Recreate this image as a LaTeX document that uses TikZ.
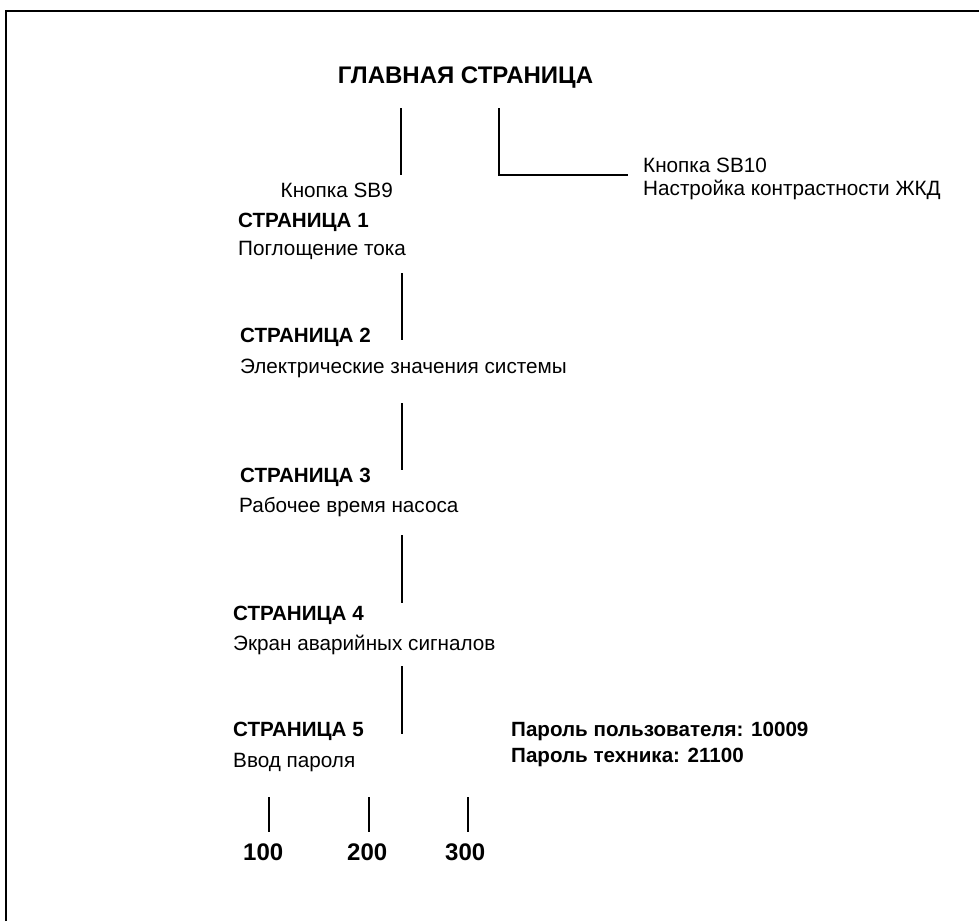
\documentclass[tikz,border=0pt]{standalone}
\usepackage{fontspec}
\setmainfont{Liberation Sans}
\begin{document}
\begin{tikzpicture}[x=1pt, y=-1pt,
    title/.style={font=\fontsize{24}{28}\selectfont\bfseries, anchor=base, inner sep=0pt},
    heading/.style={font=\fontsize{20.6}{24}\selectfont\bfseries, anchor=base west, inner sep=0pt},
    caption/.style={font=\fontsize{20.7}{24}\selectfont, anchor=base west, inner sep=0pt},
    number/.style={font=\fontsize{24}{28}\selectfont\bfseries, anchor=base west, inner sep=0pt},
    link/.style={line width=2pt}
]
\useasboundingbox (0,0) rectangle (979,921);

% Cornice
\draw[line width=2.5pt] (6,921) -- (6,11) -- (979,11);

% Pagina principale
\node[title] (main) at (465.5,83) {ГЛАВНАЯ СТРАНИЦА};
\node[caption, anchor=base east] (sb9) at (393,197) {Кнопка SB9};
\node[caption] (sb10) at (643,172) {Кнопка SB10};
\node[caption] (lcd) at (643,195) {Настройка контрастности ЖКД};

% Pagine
\node[heading] (p1) at (238,227) {СТРАНИЦА 1};
\node[caption] (p1txt) at (238,255) {Поглощение тока};
\node[heading] (p2) at (240,342) {СТРАНИЦА 2};
\node[caption] (p2txt) at (240,373) {Электрические значения системы};
\node[heading] (p3) at (240,482) {СТРАНИЦА 3};
\node[caption] (p3txt) at (239,512) {Рабочее время насоса};
\node[heading] (p4) at (233,620) {СТРАНИЦА 4};
\node[caption] (p4txt) at (233,650) {Экран аварийных сигналов};
\node[heading] (p5) at (233,736) {СТРАНИЦА 5};
\node[caption] (p5txt) at (233,767) {Ввод пароля};

% Password
\node[heading] (pwduser) at (511,736) {Пароль пользователя: 10009};
\node[heading] (pwdtech) at (511,762) {Пароль техника: 21100};

% Valori
\node[number] (v100) at (243,860) {100};
\node[number] (v200) at (347,860) {200};
\node[number] (v300) at (445,860) {300};

% Punti delle linee
\coordinate (a1) at (401,108);  \coordinate (a2) at (401,175);
\coordinate (b1) at (499,108);  \coordinate (b2) at (499,175);
\coordinate (b3) at (628,175);
\coordinate (l1) at (402,273);  \coordinate (l2) at (402,340);
\coordinate (l3) at (402,403);  \coordinate (l4) at (402,470);
\coordinate (l5) at (402,535);  \coordinate (l6) at (402,603);
\coordinate (l7) at (402,666);  \coordinate (l8) at (402,734);
\coordinate (t1) at (269,797);  \coordinate (t2) at (269,832);
\coordinate (t3) at (369,797);  \coordinate (t4) at (369,832);
\coordinate (t5) at (468,797);  \coordinate (t6) at (468,832);

% Linee
\draw[link] (a1) -- (a2);
\draw[link] (b1) -- (b2) -- (b3);
\draw[link] (l1) -- (l2);
\draw[link] (l3) -- (l4);
\draw[link] (l5) -- (l6);
\draw[link] (l7) -- (l8);
\draw[link] (t1) -- (t2);
\draw[link] (t3) -- (t4);
\draw[link] (t5) -- (t6);

\end{tikzpicture}
\end{document}
